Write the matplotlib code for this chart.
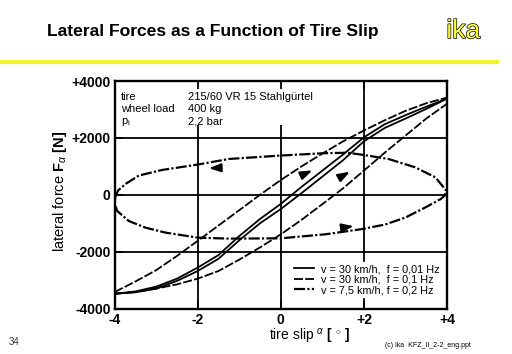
import matplotlib
matplotlib.use('Agg')
import matplotlib.pyplot as plt
import matplotlib.patheffects as pe
from matplotlib.patches import Rectangle
from matplotlib.lines import Line2D

plt.rcParams['font.family'] = ['Liberation Sans', 'DejaVu Sans']
plt.rcParams['mathtext.fontset'] = 'custom'
plt.rcParams['mathtext.rm'] = 'Liberation Sans'
plt.rcParams['mathtext.bf'] = 'Liberation Sans:bold'
plt.rcParams['mathtext.it'] = 'Liberation Sans:italic'

# slip grid for the two S-shaped loops [deg]
slip = [-4.0, -3.5, -3.0, -2.5, -2.0, -1.5, -1.0, -0.5, 0.0, 0.5, 1.0, 1.5, 2.0, 2.5, 3.0, 3.5, 4.0]

# v = 30 km/h, f = 0,01 Hz (narrow loop)
force_solid_up = [-3480, -3400, -3230, -2950, -2560, -2120, -1450, -850, -320, 280, 850, 1420, 2020, 2480, 2800, 3100, 3380]
force_solid_dn = [-3480, -3430, -3300, -3030, -2680, -2250, -1600, -1000, -500, 60, 640, 1220, 1880, 2350, 2680, 3020, 3380]

# v = 30 km/h, f = 0,1 Hz (wide loop)
force_dash_up = [-3420, -3050, -2650, -2150, -1620, -1080, -540, 0, 520, 1000, 1450, 1880, 2260, 2620, 2950, 3220, 3420]
force_dash_dn = [-3480, -3420, -3300, -3150, -2950, -2680, -2280, -1850, -1390, -880, -330, 230, 850, 1480, 2080, 2680, 3200]

# v = 7,5 km/h, f = 0,2 Hz (ellipse)
ell_slip = [-3.99, -3.92, -3.74, -3.42, -2.86, -2.0, -1.25, 0.0, 1.0, 1.6, 2.0, 2.59, 3.23, 3.72, 3.98,
            3.95, 3.85, 3.5, 3.0, 2.5, 1.92, 1.07, 0.0, -1.25, -2.0, -2.78, -3.26, -3.66, -3.94, -4.0, -3.99]
ell_force = [-100, 150, 380, 676, 873, 1063, 1260, 1380, 1460, 1480, 1400, 1260, 968, 616, 150,
             -20, -150, -430, -800, -1050, -1214, -1390, -1531, -1542, -1507, -1330, -1155, -922, -570, -300, -100]

labels = ['v = 30 km/h,  f = 0,01 Hz', 'v = 30 km/h,  f = 0,1 Hz', 'v = 7,5 km/h, f = 0,2 Hz']

xticks = [-4, -2, 0, 2, 4]
xticklabels = ['-4', '-2', '0', '+2', '+4']
yticks = [-4000, -2000, 0, 2000, 4000]
yticklabels = ['-4000', '-2000', '0', '+2000', '+4000']

# direction arrows (tail, head)
arrows = [((-1.45, 950), (-1.8, 930)),
          ((0.58, 740), (0.82, 900)),
          ((1.48, 660), (1.72, 860)),
          ((1.42, -1170), (1.82, -1090))]

fig = plt.figure(figsize=(5.12, 3.54), dpi=100)
ax = fig.add_axes([0.224, 0.1285, 0.649, 0.6425])
ax.set_xlim(-4, 4)
ax.set_ylim(-4000, 4000)

for x in [-2, 0, 2]:
    ax.axvline(x, color='k', lw=1.3, zorder=1)
for y in [-2000, 0, 2000]:
    ax.axhline(y, color='k', lw=1.3, zorder=1)
# white box behind the tire data
ax.add_patch(Rectangle((-4, 2450), 5.5, 1550, facecolor='white', edgecolor='none', zorder=1.2))

ax.plot(slip + slip[::-1], force_solid_up + force_solid_dn[::-1], color='k', lw=1.3, label=labels[0])
l2, = ax.plot(slip + slip[::-1], force_dash_up + force_dash_dn[::-1], color='k', lw=1.3, label=labels[1])
l2.set_dashes((5, 1.2))
l3, = ax.plot(ell_slip, ell_force, color='k', lw=1.6, label=labels[2])
l3.set_dashes((5, 1, 1, 1))

for tail, head in arrows:
    ax.annotate('', xy=head, xytext=tail,
                arrowprops=dict(arrowstyle='-|>,head_length=0.7,head_width=0.25', color='k', lw=1.5))

rows_y = [0.932, 0.877, 0.822]
ax.text(0.019, rows_y[0], 'tire', transform=ax.transAxes, fontsize=8, va='center', zorder=3)
ax.text(0.019, rows_y[1], 'wheel load', transform=ax.transAxes, fontsize=8, va='center', zorder=3)
ax.text(0.019, rows_y[2], r'p$_\mathregular{i}$', transform=ax.transAxes, fontsize=8, va='center', zorder=3)
ax.text(0.221, rows_y[0], '215/60 VR 15 Stahlgürtel', transform=ax.transAxes, fontsize=8, va='center', zorder=3)
ax.text(0.221, rows_y[1], '400 kg', transform=ax.transAxes, fontsize=8, va='center', zorder=3)
ax.text(0.221, rows_y[2], '2,2 bar', transform=ax.transAxes, fontsize=8, va='center', zorder=3)

ax.set_xticks(xticks)
ax.set_xticklabels(xticklabels, fontsize=10, fontweight='bold')
ax.set_yticks(yticks)
ax.set_yticklabels(yticklabels, fontsize=10, fontweight='bold')
ax.tick_params(direction='in', length=6, width=1.3, top=True, pad=3)
ax.set_axisbelow(False)
for s in ax.spines.values():
    s.set_linewidth(1.7)

leg = ax.legend(loc='lower right', bbox_to_anchor=(1.0, 0.025), fontsize=7.8, frameon=True, fancybox=False,
                edgecolor='white', facecolor='white', framealpha=1, handlelength=1.9,
                labelspacing=0.05, borderpad=0.2, handletextpad=0.6)

fig.text(0.117, 0.46, r'lateral force $\mathbf{F}_{\alpha}$ $\mathbf{[N]}$', rotation=90,
         fontsize=10.5, ha='center', va='center')
fig.text(0.525, 0.05, r'tire slip $^{\alpha}$ $\mathbf{[\ ^{\circ}\ ]}$', fontsize=10, ha='left', va='center')

fig.text(0.092, 0.910, 'Lateral Forces as a Function of Tire Slip', fontsize=12.6, fontweight='bold',
         va='center')
fig.text(0.905, 0.912, 'ika', fontsize=19, color='#ffff40', ha='center', va='center',
         path_effects=[pe.Stroke(linewidth=1.0, foreground='black'), pe.Normal()])
fig.add_artist(Line2D([0, 0.97], [0.825, 0.825], color='#f2f22a', lw=3, transform=fig.transFigure))

fig.text(0.016, 0.025, '34', fontsize=7, color='#333333')
fig.text(0.752, 0.02, '(c) ika  KFZ_II_2-2_eng.ppt', fontsize=5)

fig.savefig('out.png', dpi=100)
